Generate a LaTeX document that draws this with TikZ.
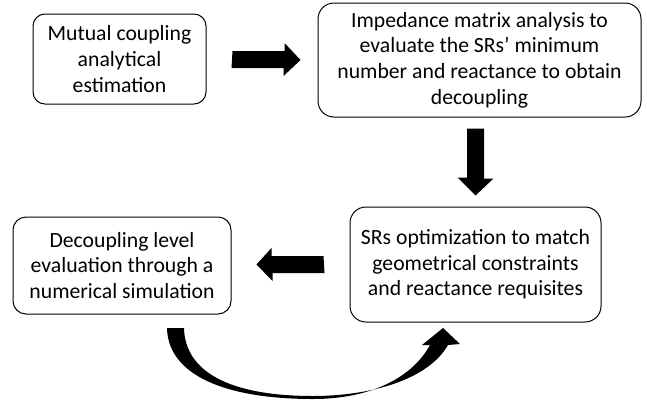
\documentclass[tikz,border=0pt]{standalone}
\usepackage{fontspec}
\setmainfont{Carlito}
\begin{document}
\begin{tikzpicture}[x=1pt,y=-1pt,
  box/.style={draw=black, line width=1pt, align=center, inner sep=0pt,
    font=\fontsize{21.7}{25.6}\selectfont},
  blk/.style={fill=black}]
\useasboundingbox (0,0) rectangle (647,405);
\node[box, rounded corners=12, minimum width=173, minimum height=90] (b1) at (119.5,59)
  {Mutual coupling\\analytical\\estimation};
\node[box, rounded corners=16, minimum width=323, minimum height=114] (b2) at (479.5,60)
  {Impedance matrix analysis to\\evaluate the SRs’ minimum\\number and reactance to obtain\\decoupling};
\node[box, rounded corners=16, minimum width=251, minimum height=115] (b3) at (475.5,264.5)
  {SRs optimization to match\\geometrical constraints\\and reactance requisites};
\node[box, rounded corners=13, minimum width=218, minimum height=97] (b4) at (122,265.5)
  {Decoupling level\\evaluation through a\\numerical simulation};
% arrow b1 -> b2
\coordinate (a1s) at ([xshift=26]b1.east);
\coordinate (a1e) at ([xshift=-17]b2.west);
\fill[blk] (a1s) ++(0,-8) -- ++(52,0) -- ++(0,-8) -- (a1e) -- ++(-17,16) -- ++(0,-8) -- ++(-52,0) -- cycle;
% arrow b2 -> b3
\coordinate (a2s) at ([xshift=-4,yshift=-11]b2.south);
\coordinate (a2e) at ([yshift=11]b3.north);
\fill[blk] (a2s) ++(-8.5,0) -- ++(17,0) -- ++(0,50) -- ++(9.5,0) -- (a2e) -- ++(-18,-18) -- ++(9.5,0) -- cycle;
% arrow b3 -> b4
\coordinate (a3s) at ([xshift=-26]b3.west);
\coordinate (a3e) at ([xshift=25,yshift=1]b4.east);
\fill[blk] (a3s) ++(0,-8.5) -- ++(-52,0) -- ++(0,-8) -- (a3e) -- ++(16,16.5) -- ++(0,-8) -- ++(52,0) -- cycle;
% curved arrow b4 -> b3
\coordinate (c1) at (167,328);
\coordinate (c2) at (443,328);
\fill[blk] (c1) .. controls (168,375) and (225,399) .. (313,399)
  .. controls (370,399) and (412,378) .. (430,345)
  -- (422,345) -- (c2) -- (460,344) -- (448,345)
  .. controls (428,380) and (370,396) .. (313,396)
  .. controls (230,396) and (185,372) .. (184,328) -- cycle;
\end{tikzpicture}
\end{document}
